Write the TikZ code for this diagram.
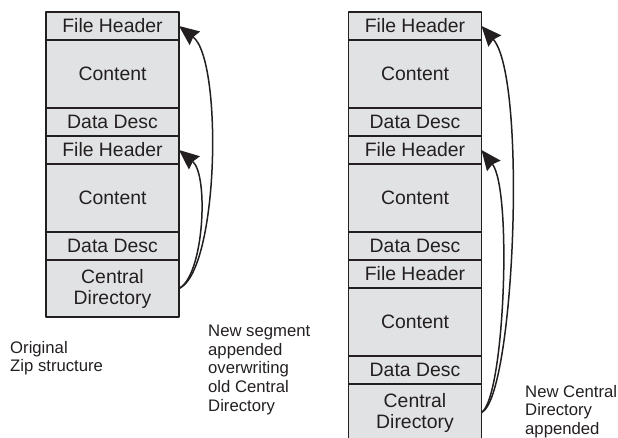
\documentclass[tikz,border=0pt]{standalone}
\usepackage{fontspec}
\setmainfont{Liberation Sans}
\usetikzlibrary{positioning,arrows.meta}
\definecolor{boxgray}{HTML}{E1E2E4}
\definecolor{ink}{HTML}{231F20}
\begin{document}
\begin{tikzpicture}[x=1pt,y=1pt,line join=round,
		every node/.style={text=ink},
		blk/.style={draw=ink,fill=boxgray,line width=1.8pt,outer sep=0pt,inner sep=0pt,
			minimum width=133pt,align=center,font=\fontsize{19.4}{21}\selectfont},
		fh/.style={blk,minimum height=28pt},
		ct/.style={blk,minimum height=68pt},
		dd/.style={blk,minimum height=28pt},
		cd/.style={blk,minimum height=57pt},
		note/.style={anchor=north west,inner sep=0pt,align=left,font=\fontsize{16.7}{18.6}\selectfont},
		link/.style={draw=ink,line width=1.5pt,-{Stealth[length=20pt,width=17pt,inset=2pt]}}]
	\useasboundingbox (0,0) rectangle (618,-437);
	\node[fh] (lfh1) at (112.5,-26) {File Header};
	\node[ct,below=0pt of lfh1] (lct1) {Content};
	\node[dd,below=0pt of lct1] (ldd1) {Data Desc};
	\node[fh,below=0pt of ldd1] (lfh2) {File Header};
	\node[ct,below=0pt of lfh2] (lct2) {Content};
	\node[dd,below=0pt of lct2] (ldd2) {Data Desc};
	\node[cd,below=0pt of ldd2] (lcd) {Central\\Directory};
	\node[fh] (rfh1) at (415,-26) {File Header};
	\node[ct,below=0pt of rfh1] (rct1) {Content};
	\node[dd,below=0pt of rct1] (rdd1) {Data Desc};
	\node[fh,below=0pt of rdd1] (rfh2) {File Header};
	\node[ct,below=0pt of rfh2] (rct2) {Content};
	\node[dd,below=0pt of rct2] (rdd2) {Data Desc};
	\node[fh,below=0pt of rdd2] (rfh3) {File Header};
	\node[ct,below=0pt of rfh3] (rct3) {Content};
	\node[dd,below=0pt of rct3] (rdd3) {Data Desc};
	\node[cd,below=0pt of rdd3] (rcd) {Central\\Directory};
	\node[note] (orig) at (10,-341) {Original\\Zip structure};
	\node[note] (seg) at (208,-325) {New segment\\appended\\overwriting\\old Central\\Directory};
	\node[note] (newcd) at (525,-385) {New Central\\Directory\\appended};
	\foreach \s/\t/\ax/\ay/\bx/\by in {lcd/lfh1/40/18/44/-34, lcd/lfh2/25/13/30/-25,
		rcd/rfh1/33/15/46/-52, rcd/rfh2/23/15/31/-40}
		\draw[link] (\s.east) .. controls +(\ax,\ay) and +(\bx,\by) .. (\t.east);
\end{tikzpicture}
\end{document}
